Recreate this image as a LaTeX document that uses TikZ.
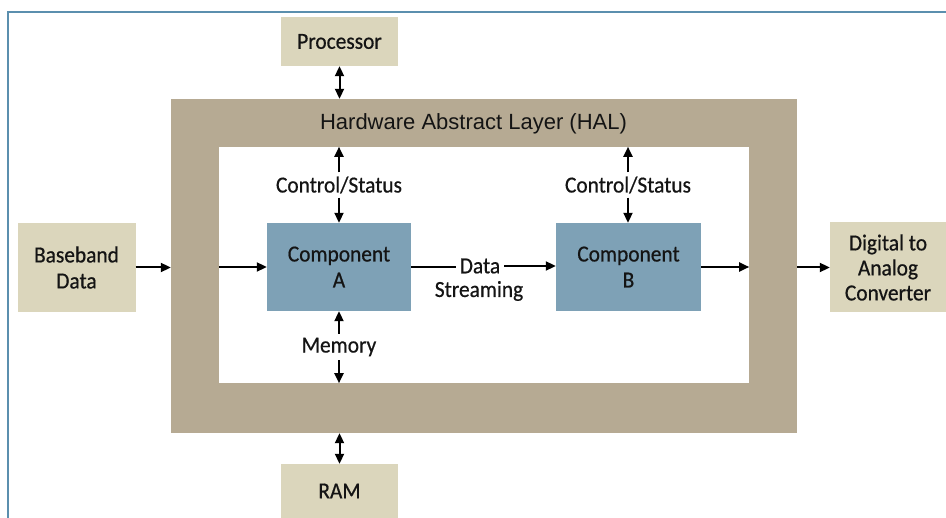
\documentclass[tikz,border=0pt]{standalone}
\usepackage{fontspec}
\setmainfont{Carlito}[FakeStretch=0.93, FakeBold=0.6]
\newfontfamily\helv{Liberation Sans}
\usetikzlibrary{arrows.meta}

\definecolor{framebl}{HTML}{5B8FAE}
\definecolor{sandbox}{HTML}{DBD6BC}
\definecolor{halfill}{HTML}{B6AA93}
\definecolor{compfill}{HTML}{7EA1B6}

\begin{document}
\begin{tikzpicture}[
  x=1pt, y=-1pt,
  font=\fontsize{23}{26}\selectfont,
  every node/.style={inner sep=0pt, align=center, text=black!92},
  extbox/.style={fill=sandbox},
  compbox/.style={fill=compfill},
  lbl/.style={inner sep=4pt},
  tip/.tip={Triangle[length=10pt,width=9pt]},
  link/.style={line width=2pt, -tip},
  plainlink/.style={line width=2pt},
  twoway/.style={line width=2pt, tip-tip}
]
\useasboundingbox (0,0) rectangle (946,518);

% outer frame (left and top edges)
\draw[framebl, line width=2.2pt] (8,518) -- (8,12) -- (946,12);

% hardware abstraction layer
\node[fill=halfill, minimum width=626pt, minimum height=334pt] (hal) at (484,266) {};
\node[fill=white, minimum width=530pt, minimum height=236pt] (inner) at (484,265) {};
\node[font=\helv\fontsize{22}{25}\selectfont] (hallbl) at (473.5,123.5) {Hardware Abstract Layer (HAL)};

% external blocks
\node[extbox, minimum width=117pt, minimum height=49pt] (proc) at (339.5,41.5) {Processor};
\node[extbox, minimum width=117pt, minimum height=54pt] (ram) at (339.5,491) {RAM};
\node[extbox, minimum width=118pt, minimum height=89pt] (bb) at (76.5,267.5) {Baseband\\Data};
\node[extbox, minimum width=116pt, minimum height=90pt, font=\fontsize{23}{25}\selectfont] (dac) at (888,267.5) {Digital to\\Analog\\Converter};

% components
\node[compbox, minimum width=144pt, minimum height=88pt] (ca) at (339,267) {Component\\A};
\node[compbox, minimum width=145pt, minimum height=88pt] (cb) at (628.5,267) {Component\\B};

% labels inside the layer
\node[lbl] (csa) at (339,185) {Control/Status};
\node[lbl] (csb) at (628,185) {Control/Status};
\node[lbl] (mem) at (339,347) {Memory};
\node[lbl] (dat) at (480,266) {Data};
\node (strm) at (479,291) {Streaming};

% connectors to the outside
\draw[twoway] (proc.south) -- (proc.south |- hal.north);
\draw[twoway] (ram.north |- hal.south) -- (ram.north);
\draw[link] (bb.east) -- (bb.east -| hal.west);
\draw[link] (hal.east |- dac.west) -- (dac.west);

% connectors inside the layer
\draw[link] (inner.west |- ca.west) -- (ca.west);
\draw[plainlink] (ca.east) -- (ca.east -| dat.west);
\draw[link] (dat.east) -- (dat.east -| cb.west);
\draw[link] (cb.east) -- (cb.east -| inner.east);

\draw[link] (csa.north) -- (csa.north |- inner.north);
\draw[link] (csa.south) -- (csa.south |- ca.north);
\draw[link] (csb.north) -- (csb.north |- inner.north);
\draw[link] (csb.south) -- (csb.south |- cb.north);
\draw[link] (mem.north) -- (mem.north |- ca.south);
\draw[link] (mem.south) -- (mem.south |- inner.south);
\end{tikzpicture}
\end{document}
